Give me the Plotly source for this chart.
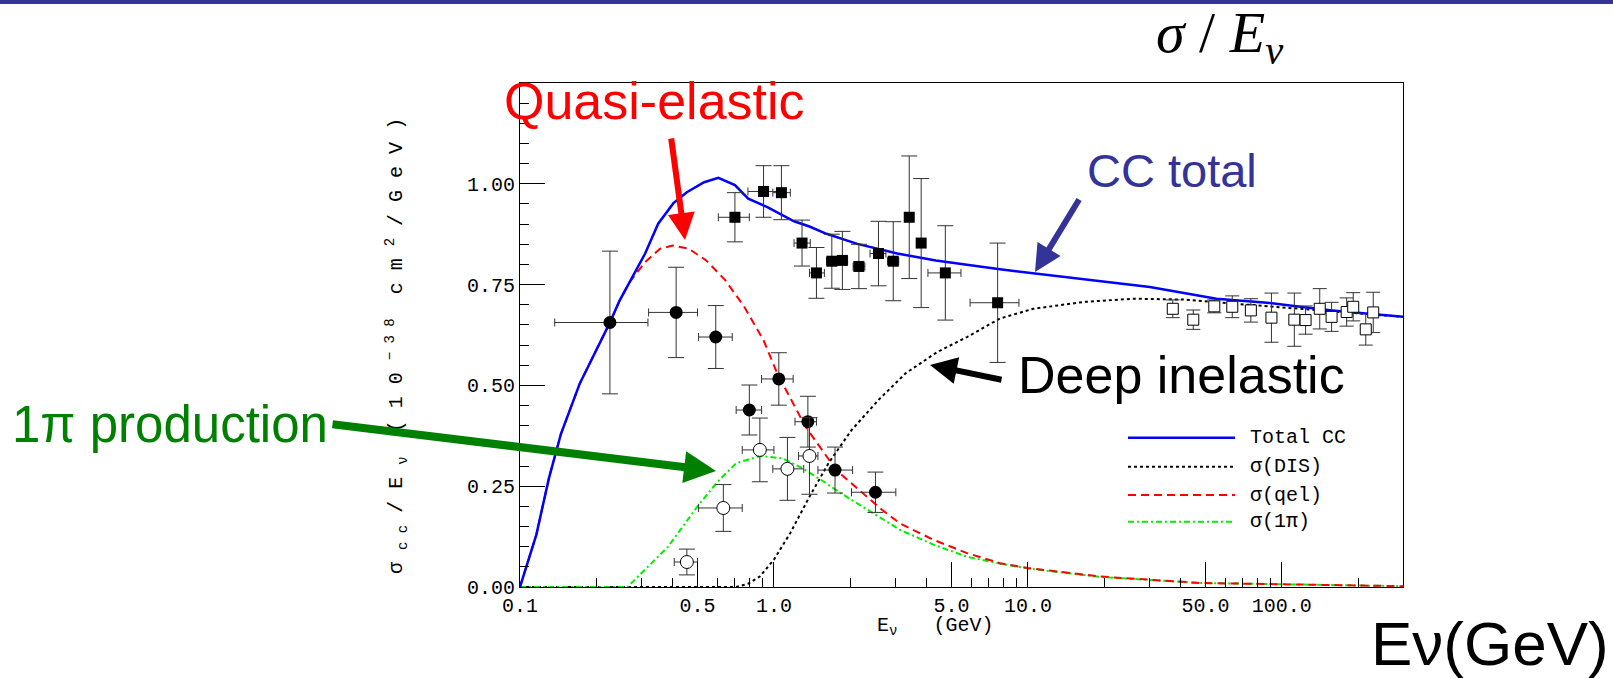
import plotly.graph_objects as go

# ---------------- data ----------------
total_E = [0.1, 0.116, 0.13, 0.145, 0.172, 0.205, 0.226, 0.247, 0.27, 0.311, 0.35, 0.402, 0.454,
           0.531, 0.604, 0.702, 0.792, 0.942, 1.2, 1.38, 1.61, 2.13, 3.06, 4.34, 7.76, 10.8,
           19.2, 30.2, 55.3, 87.4, 118, 158, 300]
total_y = [0.0, 0.13, 0.27, 0.38, 0.505, 0.604, 0.656, 0.711, 0.756, 0.827, 0.901, 0.952, 0.979,
           1.004, 1.015, 0.997, 0.963, 0.942, 0.907, 0.894, 0.876, 0.851, 0.827, 0.81, 0.788, 0.777,
           0.759, 0.744, 0.715, 0.705, 0.695, 0.686, 0.67]

qel_E = [0.1, 0.116, 0.13, 0.145, 0.172, 0.205, 0.226, 0.247, 0.27, 0.311, 0.356, 0.399, 0.462,
         0.541, 0.643, 0.764, 0.91, 1.03, 1.33, 1.76, 2.67, 3.13, 4.25, 5.76, 7.76, 10, 19.2, 47.5, 300]
qel_y = [0.0, 0.13, 0.27, 0.38, 0.505, 0.604, 0.656, 0.711, 0.756, 0.806, 0.839, 0.847, 0.839,
         0.81, 0.761, 0.695, 0.612, 0.53, 0.398, 0.29, 0.191, 0.158, 0.117, 0.084, 0.059, 0.047,
         0.026, 0.01, 0.002]

pi_E = [0.1, 0.265, 0.383, 0.5, 0.6, 0.71, 0.88, 1.08, 1.29, 1.53, 1.83, 2.58, 3.13, 4.25, 5.76,
        7.76, 10, 19.2, 47.5, 300]
pi_y = [0.0, 0.0, 0.1, 0.2, 0.261, 0.307, 0.325, 0.319, 0.295, 0.266, 0.233, 0.175, 0.142, 0.105,
        0.075, 0.058, 0.046, 0.025, 0.01, 0.002]

dis_E = [0.1, 0.71, 0.79, 0.88, 1.0, 1.16, 1.38, 1.64, 2.02, 2.58, 3.3, 4.4, 5.76, 7.76, 10.5,
         16.6, 26.1, 40.9, 64.1, 118, 215, 300]
dis_y = [0.0, 0.0, 0.008, 0.026, 0.068, 0.134, 0.224, 0.307, 0.389, 0.464, 0.53, 0.583, 0.62,
         0.666, 0.69, 0.707, 0.715, 0.713, 0.703, 0.69, 0.678, 0.67]

# quasi-elastic data (filled circles)
qd_E = [0.226, 0.412, 0.59, 0.80, 1.045, 1.36, 1.74, 2.51]
qd_y = [0.656, 0.681, 0.62, 0.439, 0.516, 0.41, 0.29, 0.235]
qd_dy = [0.177, 0.112, 0.078, 0.062, 0.065, 0.063, 0.057, 0.05]
qd_Elo = [0.137, 0.321, 0.505, 0.71, 0.894, 1.21, 1.49, 2.02]
qd_Ehi = [0.319, 0.5, 0.685, 0.894, 1.19, 1.47, 2.04, 3.02]

# single pion data (open circles)
pd_E = [0.454, 0.632, 0.88, 1.13, 1.38]
pd_y = [0.062, 0.196, 0.34, 0.293, 0.325]
pd_dy = [0.032, 0.058, 0.079, 0.078, 0.095]
pd_Elo = [0.405, 0.505, 0.75, 0.99, 1.25]
pd_Ehi = [0.5, 0.75, 1.0, 1.31, 1.49]

# total CC data, low energy (filled squares)
sq_E = [0.702, 0.91, 1.07, 1.29, 1.47, 1.69, 1.86, 2.16, 2.58, 2.95, 3.41, 3.80, 4.73, 7.6]
sq_y = [0.917, 0.981, 0.978, 0.853, 0.779, 0.808, 0.81, 0.795, 0.827, 0.808, 0.917, 0.853, 0.779, 0.705]
sq_dy = [0.061, 0.064, 0.067, 0.057, 0.063, 0.067, 0.072, 0.055, 0.08, 0.098, 0.152, 0.16, 0.117, 0.148]
sq_Elo = [0.604, 0.79, 0.99, 1.20, 1.38, 1.61, 1.80, 2.05, 2.39, 2.80, 3.30, 3.65, 4.04, 5.92]
sq_Ehi = [0.80, 1.045, 1.16, 1.39, 1.58, 1.80, 1.95, 2.28, 2.76, 3.10, 3.52, 3.95, 5.45, 9.22]

# total CC data, high energy (open squares)
os_E = [37.2, 44.8, 54.2, 63.8, 75.5, 91, 112, 124, 141, 157, 180, 191, 214, 229]
os_y = [0.69, 0.663, 0.696, 0.695, 0.686, 0.668, 0.663, 0.662, 0.69, 0.67, 0.682, 0.695, 0.639, 0.681]
os_dy = [0.022, 0.024, 0.016, 0.027, 0.029, 0.061, 0.066, 0.035, 0.05, 0.036, 0.035, 0.035, 0.039, 0.05]

x_major = [0.1, 0.5, 1.0, 5.0, 10.0, 50.0, 100.0]
x_major_text = ["0.1", "0.5", "1.0", "5.0", "10.0", "50.0", "100.0"]
x_minor = [0.2, 0.3, 0.4, 0.6, 0.7, 0.8, 0.9, 2, 3, 4, 6, 7, 8, 9, 20, 30, 40, 60, 70, 80, 90, 200, 300]
y_major = [0.0, 0.25, 0.5, 0.75, 1.0]
y_major_text = ["0.00", "0.25", "0.50", "0.75", "1.00"]
y_minor = [round(0.05 * i, 2) for i in range(26)]

legend_names = ["Total CC", "σ(DIS)", "σ(qel)", "σ(1π)"]

# ---------------- layout geometry ----------------
W, H = 1613, 678
L, R, T, B = 520, 1403, 83, 587
X_RANGE = [-1, 2.4771]
Y_RANGE = [0, 1.25]


def px(x):
    return (x - L) / (R - L)


def py(y):
    return (B - y) / (B - T)


MONO = "Liberation Mono"
SANS = "Liberation Sans"
NB = "\u00a0"

fig = go.Figure()

fig.add_trace(go.Scatter(x=dis_E, y=dis_y, mode="lines", name="σ(DIS)",
                         line=dict(color="black", width=2, dash="3px,3px")))
fig.add_trace(go.Scatter(x=pi_E, y=pi_y, mode="lines", name="σ(1π)",
                         line=dict(color="#00ee00", width=2, dash="6px,3px,2px,3px")))
fig.add_trace(go.Scatter(x=qel_E, y=qel_y, mode="lines", name="σ(qel)",
                         line=dict(color="#ff0000", width=2, dash="8px,5px")))
fig.add_trace(go.Scatter(x=total_E, y=total_y, mode="lines", name="Total CC",
                         line=dict(color="#0000ff", width=2.5)))

err_col = "#333333"


def xerr(E, lo, hi):
    return dict(type="data", symmetric=False,
                array=[h - e for e, h in zip(E, hi)],
                arrayminus=[e - l for e, l in zip(E, lo)],
                color=err_col, thickness=1, width=4)


def yerr(d):
    return dict(type="data", array=d, color=err_col, thickness=1, width=8)


fig.add_trace(go.Scatter(x=sq_E, y=sq_y, mode="markers",
                         marker=dict(symbol="square", size=11, color="black"),
                         error_x=xerr(sq_E, sq_Elo, sq_Ehi), error_y=yerr(sq_dy)))
fig.add_trace(go.Scatter(x=os_E, y=os_y, mode="markers",
                         marker=dict(symbol="square", size=11, color="white",
                                     line=dict(color="black", width=1)),
                         error_y=dict(type="data", array=os_dy, color=err_col, thickness=1, width=7)))
fig.add_trace(go.Scatter(x=qd_E, y=qd_y, mode="markers",
                         marker=dict(symbol="circle", size=13, color="black"),
                         error_x=xerr(qd_E, qd_Elo, qd_Ehi), error_y=yerr(qd_dy)))
fig.add_trace(go.Scatter(x=pd_E, y=pd_y, mode="markers",
                         marker=dict(symbol="circle", size=13, color="white",
                                     line=dict(color="black", width=1)),
                         error_x=xerr(pd_E, pd_Elo, pd_Ehi), error_y=yerr(pd_dy)))

# invisible trace that carries the overlay (minor-tick) axes
fig.add_trace(go.Scatter(x=[x_major[0]], y=[y_major[0]], xaxis="x2", yaxis="y2", mode="markers",
                         marker=dict(opacity=0), hoverinfo="skip"))

axis_common = dict(showline=True, linecolor="black", linewidth=1, mirror=True,
                   ticks="inside", ticklen=25, tickwidth=1, tickcolor="black",
                   showgrid=False, zeroline=False,
                   tickfont=dict(family=MONO, size=20, color="black"))
minor_common = dict(showline=True, linecolor="black", linewidth=1, mirror=True,
                    ticks="inside", ticklen=9, tickwidth=1, tickcolor="black",
                    showgrid=False, zeroline=False, showticklabels=False, tickmode="array")

fig.update_layout(
    xaxis=dict(type="log", range=X_RANGE, tickmode="array", tickvals=x_major,
               ticktext=x_major_text, **axis_common),
    yaxis=dict(range=Y_RANGE, tickmode="array", tickvals=y_major, ticktext=y_major_text,
               **axis_common),
    xaxis2=dict(type="log", range=X_RANGE, overlaying="x", anchor="y2", side="bottom",
                tickvals=x_minor, **minor_common),
    yaxis2=dict(range=Y_RANGE, overlaying="y", anchor="x2", side="left",
                tickvals=y_minor, **minor_common),
)

shapes = [dict(type="rect", xref="paper", yref="paper", x0=px(0), x1=px(W), y0=py(4), y1=py(0),
               fillcolor="#333399", line=dict(width=0), layer="above")]

leg_y = [437.7, 466.7, 495.0, 521.7]
leg_styles = [dict(color="#0000ff", width=2.5), dict(color="black", width=2, dash="3px,3px"),
              dict(color="#ff0000", width=2, dash="8px,5px"),
              dict(color="#00ee00", width=2, dash="6px,3px,2px,3px")]
annotations = []
for name, yy, st in zip(legend_names, leg_y, leg_styles):
    shapes.append(dict(type="line", xref="paper", yref="paper", x0=px(1128), x1=px(1235),
                       y0=py(yy), y1=py(yy), line=st))
    annotations.append(dict(text=name, xref="paper", yref="paper", x=px(1248), y=py(yy),
                            xanchor="left", yanchor="middle", showarrow=False,
                            font=dict(family=MONO, size=20, color="black")))

# y axis title (letter-spaced, rotated)
ytitle = (f"σ{NB}<sub>c{NB}c</sub>{NB}/{NB}E{NB}<sub>ν</sub>{NB*2}"
          f"({NB}1{NB}0{NB}<sup>−{NB}3{NB}8</sup>{NB*2}"
          f"c{NB}m{NB}<sup>2</sup>{NB}/{NB}G{NB}e{NB}V{NB})")
annotations.append(dict(text=ytitle, xref="paper", yref="paper", x=px(397), y=py(346),
                        textangle=-90, xanchor="center", yanchor="middle", showarrow=False,
                        font=dict(family=MONO, size=20, color="black")))

# x axis title
annotations.append(dict(text=f"E<sub>ν</sub>{NB*3}(GeV)", xref="paper", yref="paper",
                        x=px(935), y=py(626), xanchor="center", yanchor="middle", showarrow=False,
                        font=dict(family=MONO, size=20, color="black")))


def label(text, x, y, size, color, family=SANS):
    annotations.append(dict(text=text, xref="paper", yref="paper", x=px(x), y=py(y),
                            xanchor="center", yanchor="middle", showarrow=False,
                            font=dict(family=family, size=size, color=color)))


def arrow(tip, tail, color, width, size=0.9):
    annotations.append(dict(text="", xref="paper", yref="paper", x=px(tip[0]), y=py(tip[1]),
                            ax=tail[0] - tip[0], ay=tail[1] - tip[1], showarrow=True,
                            arrowhead=2, arrowsize=size, arrowwidth=width, arrowcolor=color))


label("Quasi-elastic", 654, 101, 52, "#ff0000")
label("CC total", 1172, 170, 47, "#333399")
label("Deep inelastic", 1181, 375, 52, "black")
label("1π production", 170, 424, 51, "#008000")
label("Eν(GeV)", 1490, 643, 62, "black")
label("<i>σ</i> / <i>E<sub>ν</sub></i>", 1220, 36, 58, "black", family="Liberation Serif")

arrow((685, 240), (671, 137), "#ff0000", 6)
arrow((1035, 272), (1080, 198), "#333399", 6)
arrow((930, 365), (1003, 380), "black", 6)
arrow((716, 471), (331, 424), "#008000", 8, 0.8)

fig.update_layout(width=W, height=H, margin=dict(l=L, r=W - R, t=T, b=H - B),
                  paper_bgcolor="white", plot_bgcolor="white", showlegend=False,
                  shapes=shapes, annotations=annotations)

fig.write_html("out.html")
